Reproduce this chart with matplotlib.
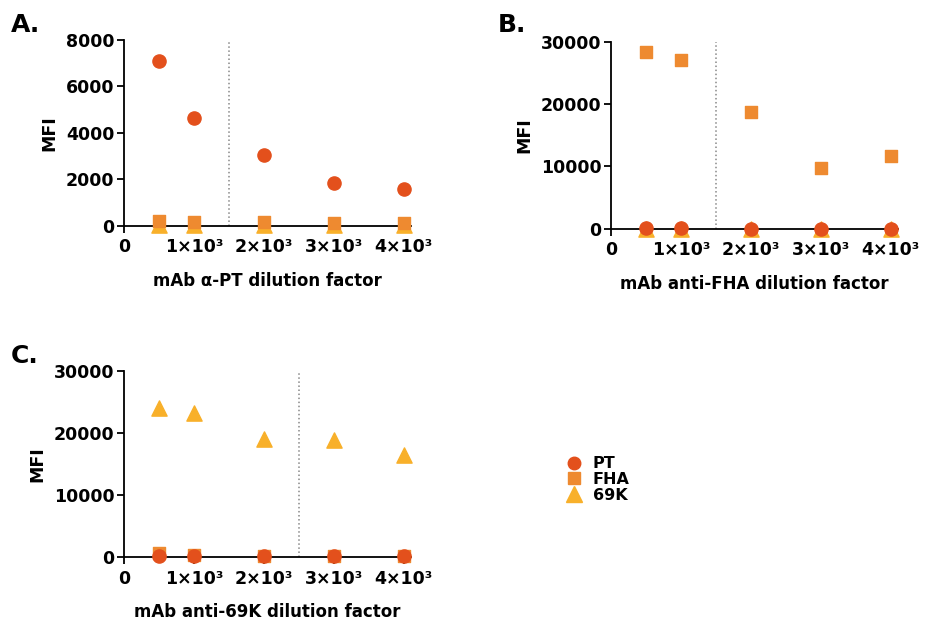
import numpy as np
import matplotlib
matplotlib.use("Agg")
import matplotlib.pyplot as plt

plt.rcParams['font.family'] = ['DejaVu Sans']
plt.rcParams['font.weight'] = 'bold'

dilution = [500, 1000, 2000, 3000, 4000]
xticks = [0, 1000, 2000, 3000, 4000]
xticklabels = ['0', '1×10³', '2×10³', '3×10³', '4×10³']

# panel A: mAb alpha-PT
a_pt = [7100, 4650, 3050, 1850, 1580]
a_fha = [200, 150, 150, 100, 100]
a_69k = [20, 20, 20, 20, 20]

# panel B: mAb anti-FHA
b_pt = [100, 80, 60, 60, 60]
b_fha = [28300, 27100, 18750, 9700, 11700]
b_69k = [0, 0, 0, 0, 0]

# panel C: mAb anti-69K
c_pt = [200, 150, 100, 100, 100]
c_fha = [700, 300, 150, 100, 100]
c_69k = [24000, 23200, 19000, 18800, 16400]

col_pt = '#E3501C'
col_fha = '#EE8A30'
col_69k = '#F8B02A'

fig = plt.figure(figsize=(9.25, 6.22), dpi=100)


def draw_panel(rect, pt, fha, k69, ymax, yticks, xlabel, vline, letter, lpos):
    ax = fig.add_axes(rect)
    ax.scatter(dilution, k69, marker='^', s=120, color=col_69k, clip_on=False, zorder=3)
    ax.scatter(dilution, fha, marker='s', s=75, color=col_fha, clip_on=False, zorder=4)
    ax.scatter(dilution, pt, marker='o', s=90, color=col_pt, clip_on=False, zorder=5)
    ax.axvline(vline, color='#888888', linestyle=':', linewidth=1.1, zorder=1)
    ax.set_xlim(0, 4100)
    ax.set_ylim(0, ymax)
    ax.set_xticks(xticks)
    ax.set_xticklabels(xticklabels)
    ax.set_yticks(yticks)
    for s in ['top', 'right']:
        ax.spines[s].set_visible(False)
    for s in ['left', 'bottom']:
        ax.spines[s].set_linewidth(1.3)
    ax.tick_params(axis='both', labelsize=12.5, width=1.3, length=5, pad=2)
    ax.tick_params(axis='x', pad=4)
    ax.set_ylabel('MFI', fontsize=12.5, fontweight='bold', labelpad=5)
    ax.set_xlabel(xlabel, fontsize=12, fontweight='bold', labelpad=11)
    fig.text(lpos[0], lpos[1], letter, fontsize=18, fontweight='bold', va='center', ha='left')
    return ax


draw_panel([0.134, 0.637, 0.310, 0.299], a_pt, a_fha, a_69k, 8000,
           [0, 2000, 4000, 6000, 8000], 'mAb α-PT dilution factor', 1500,
           'A.', (0.012, 0.96))
draw_panel([0.6605, 0.632, 0.310, 0.301], b_pt, b_fha, b_69k, 30000,
           [0, 10000, 20000, 30000], 'mAb anti-FHA dilution factor', 1500,
           'B.', (0.538, 0.96))
draw_panel([0.134, 0.1045, 0.310, 0.299], c_pt, c_fha, c_69k, 30000,
           [0, 10000, 20000, 30000], 'mAb anti-69K dilution factor', 2500,
           'C.', (0.012, 0.428))

# legend
labels = ['PT', 'FHA', '69K']
markers = ['o', 's', '^']
colors = [col_pt, col_fha, col_69k]
sizes = [9, 8, 11]
handles = [plt.Line2D([], [], linestyle='none', marker=m, color=c, markersize=sz)
           for m, c, sz in zip(markers, colors, sizes)]
fig.legend(handles, labels, loc='center left', bbox_to_anchor=(0.603, 0.229),
           frameon=False, fontsize=11.5, handletextpad=0.6, labelspacing=0.05,
           handlelength=1.2, borderaxespad=0)

fig.savefig('out.png', dpi=100)
